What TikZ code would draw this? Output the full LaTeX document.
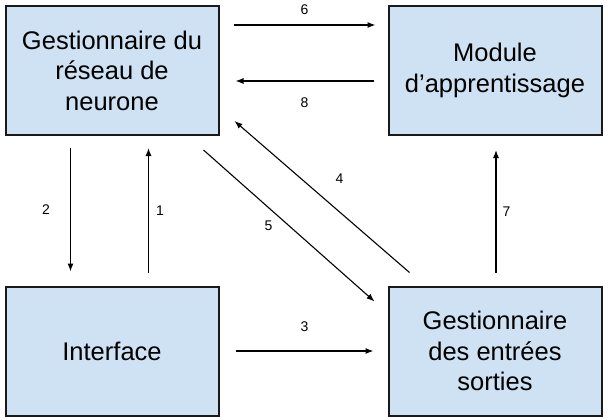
\documentclass[tikz,border=0pt]{standalone}
\usepackage{fontspec}
\setmainfont{Liberation Sans}
\usetikzlibrary{positioning, arrows.meta, calc}

\definecolor{boxblue}{HTML}{CFE2F3}

\begin{document}
\begin{tikzpicture}[
    x=1pt, y=-1pt,
    arrow/.style={
        -{Latex[length=8pt,width=6pt]},
        line width=1.1pt
    },
    module/.style={
        rectangle,
        fill=boxblue,
        draw=black!90,
        line width=2pt,
        minimum width=213pt,
        minimum height=129pt,
        align=center,
        font=\fontsize{25.5}{30.5}\selectfont
    },
    lbl/.style={
        inner sep=0pt,
        font=\fontsize{14}{16}\selectfont
    }
]
    \useasboundingbox (0,0) rectangle (608,420);

    % Modules
    \node[module] (reseau) at (112,70.5) {Gestionnaire du\\r\'eseau de\\neurone};
    \node[module] (apprent) at (495,70.5) {Module\\d'apprentissage};
    \node[module] (interface) at (112,351) {Interface};
    \node[module] (entrees) at (495,351) {Gestionnaire\\des entr\'ees\\sorties};

    % Connectors
    \draw[arrow] ($(interface.north west)+(144,-13)$) -- node[lbl, right=7pt] {1} ($(reseau.south west)+(144,12)$);
    \draw[arrow] ($(reseau.south west)+(66,12)$) -- node[lbl, left=20pt] {2} ($(interface.north west)+(66,-14)$);
    \draw[arrow] ($(interface.east)+(16,0)$) -- node[lbl, above=19pt] {3} ($(entrees.west)+(-14,0)$);
    \draw[arrow] ($(entrees.north west)+(22,-13)$) -- node[lbl, above right=13pt and 13pt] {4} ($(reseau.south east)+(15,-15)$);
    \draw[arrow] ($(reseau.south east)+(-16,14)$) -- node[lbl, left=16pt] {5} ($(entrees.north west)+(-13,16)$);
    \draw[arrow] ($(reseau.north east)+(14,20)$) -- node[lbl, above=10pt] {6} ($(apprent.north west)+(-12,20)$);
    \draw[arrow] ($(entrees.north)+(1,-13)$) -- node[lbl, right=6pt] {7} ($(apprent.south)+(1,14)$);
    \draw[arrow] ($(apprent.north west)+(-14,76)$) -- node[lbl, below=16pt] {8} ($(reseau.north east)+(16,76)$);
\end{tikzpicture}
\end{document}
